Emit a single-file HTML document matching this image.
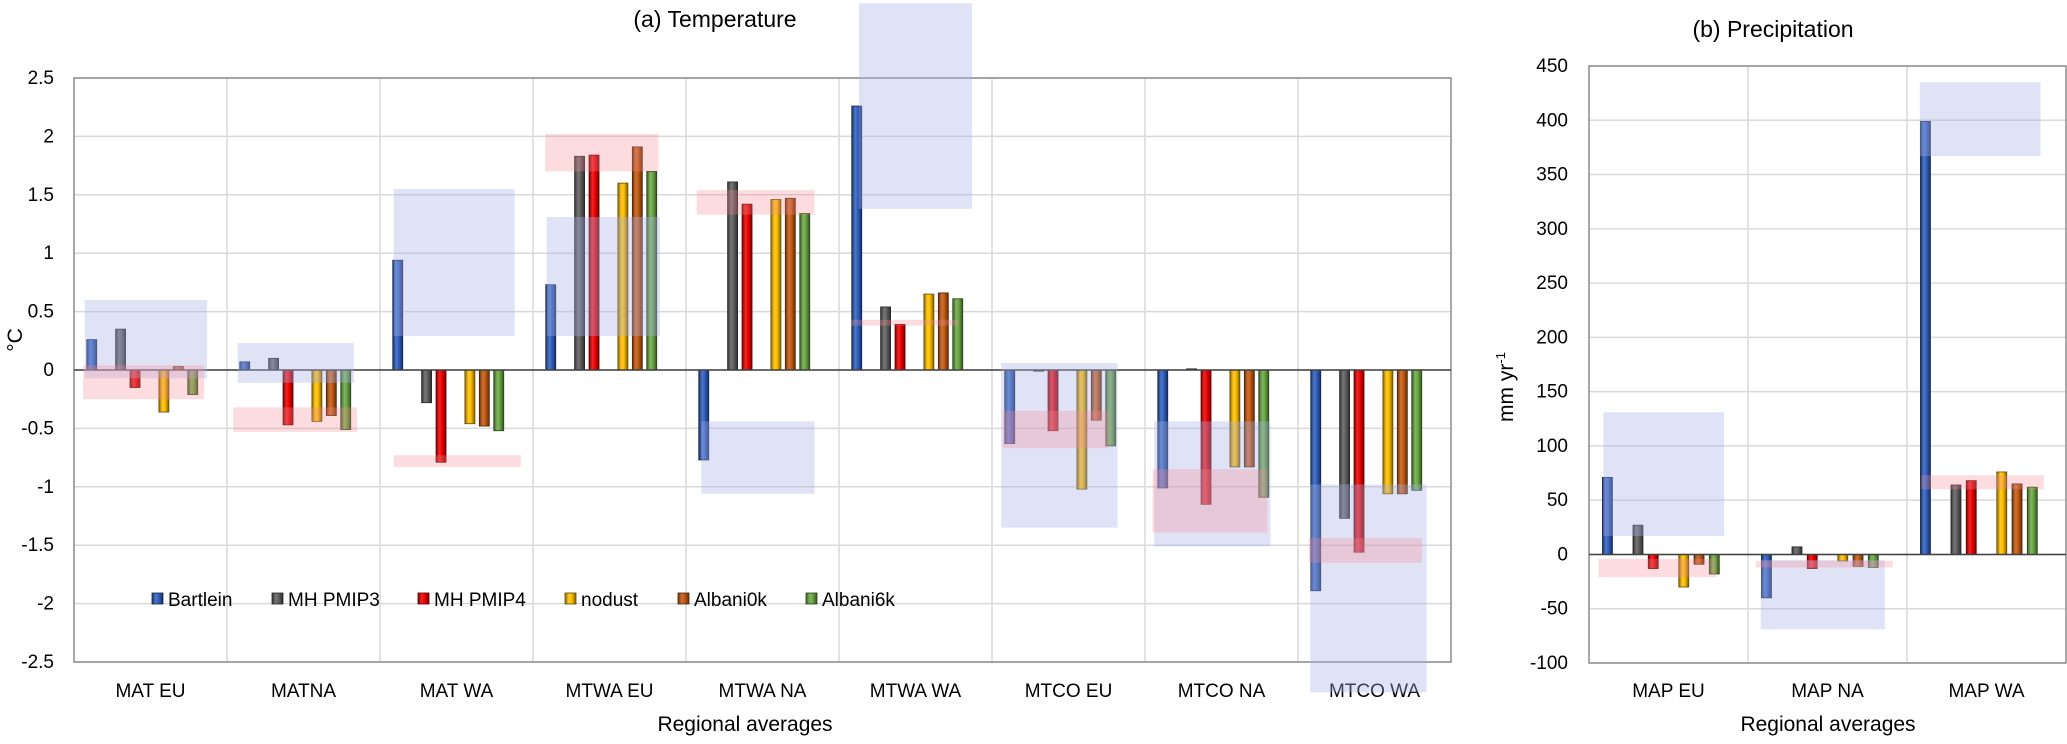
<!DOCTYPE html>
<html><head><meta charset="utf-8"><style>
body{margin:0;background:#fff}
svg text{font-family:"Liberation Sans",sans-serif;fill:#000}
</style></head><body>
<svg id="chart" width="2067" height="739" viewBox="0 0 2067 739" xmlns="http://www.w3.org/2000/svg">
<defs id="defs"></defs>
<g id="g"></g>
</svg>
<script>
const seriesNames=["Bartlein","MH PMIP3","MH PMIP4","nodust","Albani0k","Albani6k"];
const seriesColors=["#2f5fc0","#5f5f5f","#ee0000","#ffc000","#c55a11","#6aa843"];
const seriesSlots=[0,2,3,5,6,7];
const tempCats=["MAT EU","MATNA","MAT WA","MTWA EU","MTWA NA","MTWA WA","MTCO EU","MTCO NA","MTCO WA"];
const tempBartlein=[0.26,0.07,0.94,0.73,-0.77,2.26,-0.63,-1.01,-1.89];
const tempPMIP3=[0.35,0.10,-0.28,1.83,1.61,0.54,-0.01,0.01,-1.27];
const tempPMIP4=[-0.15,-0.47,-0.79,1.84,1.42,0.39,-0.52,-1.15,-1.56];
const tempNodust=[-0.36,-0.44,-0.46,1.60,1.46,0.65,-1.02,-0.83,-1.06];
const tempAlbani0k=[0.03,-0.39,-0.48,1.91,1.47,0.66,-0.43,-0.83,-1.06];
const tempAlbani6k=[-0.21,-0.51,-0.52,1.70,1.34,0.61,-0.65,-1.09,-1.03];
const tempBlueLo=[-0.07,-0.11,0.29,0.29,-1.06,1.38,-1.35,-1.51,-2.76];
const tempBlueHi=[0.60,0.23,1.55,1.31,-0.44,3.14,0.06,-0.44,-0.98];
const tempPinkLo=[-0.25,-0.53,-0.83,1.70,1.33,0.38,-0.67,-1.39,-1.65];
const tempPinkHi=[0.04,-0.32,-0.73,2.02,1.54,0.43,-0.35,-0.85,-1.44];
const tempTicks=[2.5,2,1.5,1,0.5,0,-0.5,-1,-1.5,-2,-2.5];
const precCats=["MAP EU","MAP NA","MAP WA"];
const precBartlein=[71,-40,399];
const precPMIP3=[27,7,64];
const precPMIP4=[-13,-13,68];
const precNodust=[-30,-6,76];
const precAlbani0k=[-9,-11,65];
const precAlbani6k=[-18,-12,62];
const precBlueLo=[17,-69,367];
const precBlueHi=[131,-5,435];
const precPinkLo=[-21,-12,60];
const precPinkHi=[-4,-6,73];
const precTicks=[450,400,350,300,250,200,150,100,50,0,-50,-100];

// box horizontal extents as fraction of category (layout)
const tempBlueX=[[0.07,0.87],[0.07,0.83],[0.09,0.88],[0.09,0.83],[0.10,0.84],[0.13,0.87],[0.06,0.82],[0.06,0.82],[0.08,0.84]];
const tempPinkX=[[0.06,0.85],[0.04,0.85],[0.09,0.92],[0.08,0.82],[0.07,0.84],[0.08,0.78],[0.07,0.76],[0.05,0.80],[0.07,0.81]];
const precBlueX=[[0.09,0.85],[0.08,0.86],[0.08,0.84]];
const precPinkX=[[0.06,0.80],[0.05,0.91],[0.09,0.86]];

const NS="http://www.w3.org/2000/svg";
const g=document.getElementById('g');
const defs=document.getElementById('defs');
function el(t,a,p){const e=document.createElementNS(NS,t);for(const k in a)e.setAttribute(k,a[k]);(p||g).appendChild(e);return e;}
function shade(hex,f){const n=parseInt(hex.slice(1),16);let r=n>>16,gg=(n>>8)&255,b=n&255;
 if(f<0){r*=1+f;gg*=1+f;b*=1+f}else{r+=(255-r)*f;gg+=(255-gg)*f;b+=(255-b)*f}
 return `rgb(${r|0},${gg|0},${b|0})`;}
seriesColors.forEach((c,i)=>{
 const lg=el('linearGradient',{id:'gr'+i,x1:0,x2:1,y1:0,y2:0},defs);
 el('stop',{offset:0,'stop-color':shade(c,-0.45)},lg);
 el('stop',{offset:0.35,'stop-color':shade(c,0.15)},lg);
 el('stop',{offset:0.6,'stop-color':c},lg);
 el('stop',{offset:1,'stop-color':shade(c,-0.5)},lg);
});

function drawPanel(o){
 const {L,R,T,B,vmax,vmin,cats,series,ticks,blueLo,blueHi,pinkLo,pinkHi,blueX,pinkX,prefix,fmt}=o;
 const y=v=>T+(vmax-v)/(vmax-vmin)*(B-T);
 const cw=(R-L)/cats.length;
 const xc=i=>L+i*cw;
 ticks.forEach(t=>{
  const ln=el('line',{x1:L,x2:R,y1:y(t),y2:y(t),stroke:'#d9d9d9','stroke-width':1.5});
  
  
  const tx=el('text',{x:o.tickX,y:y(t)+6,'text-anchor':'end','font-size':o.tickFs});
  tx.textContent=fmt(t);
  
  
 });
 for(let i=1;i<cats.length;i++){
  const ln=el('line',{x1:xc(i),x2:xc(i),y1:T,y2:B,stroke:'#d9d9d9','stroke-width':1.5});
  
  
 }
 const fr=el('rect',{x:L,y:T,width:R-L,height:B-T,fill:'none',stroke:'#8c8c8c','stroke-width':1.5});
 
 
 cats.forEach((c,i)=>{
  series.forEach((s,k)=>{
   const v=s[i];
   const cx=xc(i)+cw*(0.116+seriesSlots[k]*o.slotF);
   const y0=y(0),y1=y(v);
   const r=el('rect',{x:cx-5,y:Math.min(y0,y1),width:10,height:Math.max(1,Math.abs(y1-y0)),fill:'url(#gr'+k+')',stroke:shade(seriesColors[k],-0.6),'stroke-width':0.8});
   
   
  });
  const lb=el('text',{x:xc(i)+cw/2,y:o.catY,'text-anchor':'middle','font-size':o.catFs});
  lb.textContent=c;
  
  
 });
 const z=el('line',{x1:L,x2:R,y1:y(0),y2:y(0),stroke:'#404040','stroke-width':1.5});
 
 
 cats.forEach((c,i)=>{
  const b=el('rect',{x:xc(i)+cw*blueX[i][0],y:y(blueHi[i]),width:cw*(blueX[i][1]-blueX[i][0]),height:y(blueLo[i])-y(blueHi[i]),fill:'rgb(170,178,230)','fill-opacity':0.36});
  
  
  const p=el('rect',{x:xc(i)+cw*pinkX[i][0],y:y(pinkHi[i]),width:cw*(pinkX[i][1]-pinkX[i][0]),height:y(pinkLo[i])-y(pinkHi[i]),fill:'rgb(245,140,150)','fill-opacity':0.3});
  
  
 });
}
drawPanel({L:74,R:1451,T:78,B:662,vmax:2.5,vmin:-2.5,cats:tempCats,
 series:[tempBartlein,tempPMIP3,tempPMIP4,tempNodust,tempAlbani0k,tempAlbani6k],
 ticks:tempTicks,blueLo:tempBlueLo,blueHi:tempBlueHi,pinkLo:tempPinkLo,pinkHi:tempPinkHi,
 blueX:tempBlueX,pinkX:tempPinkX,prefix:'temp',fmt:t=>String(t),tickX:54,tickFs:19,slotF:0.0943,catY:697,catFs:19});
drawPanel({L:1589,R:2066,T:66,B:663,vmax:450,vmin:-100,cats:precCats,
 series:[precBartlein,precPMIP3,precPMIP4,precNodust,precAlbani0k,precAlbani6k],
 ticks:precTicks,blueLo:precBlueLo,blueHi:precBlueHi,pinkLo:precPinkLo,pinkHi:precPinkHi,
 blueX:precBlueX,pinkX:precPinkX,prefix:'precip',fmt:t=>String(t),tickX:1568,tickFs:19,slotF:0.096,catY:697,catFs:19});

const legX=[152,272,418,565,678,806];
seriesNames.forEach((n,k)=>{
 const r=el('rect',{x:legX[k],y:593,width:11,height:11,fill:'url(#gr'+k+')',stroke:shade(seriesColors[k],-0.6),'stroke-width':0.8});
 
 
 const t=el('text',{x:legX[k]+16,y:606,'font-size':19});
 t.textContent=n;
 
 
});
function txt(s,a,name){const t=el('text',a);t.textContent=s;return t;}
txt('(a) Temperature',{x:715,y:27,'text-anchor':'middle','font-size':23},'temp-title');
txt('(b) Precipitation',{x:1773,y:37,'text-anchor':'middle','font-size':23},'precip-title');
txt('Regional averages',{x:745,y:731,'text-anchor':'middle','font-size':21},'temp-x-axis-title');
txt('Regional averages',{x:1828,y:731,'text-anchor':'middle','font-size':21},'precip-x-axis-title');
txt('°C',{x:0,y:0,'text-anchor':'middle','font-size':21,transform:'translate(22,340) rotate(-90)'},'temp-y-axis-title');
const yt=txt('mm yr',{x:0,y:0,'text-anchor':'middle','font-size':21,transform:'translate(1513,387) rotate(-90)'},'precip-y-axis-title');
const sup=document.createElementNS(NS,'tspan');sup.setAttribute('dy','-8');sup.setAttribute('font-size','13');sup.textContent='-1';yt.appendChild(sup);
</script>
</body></html>
